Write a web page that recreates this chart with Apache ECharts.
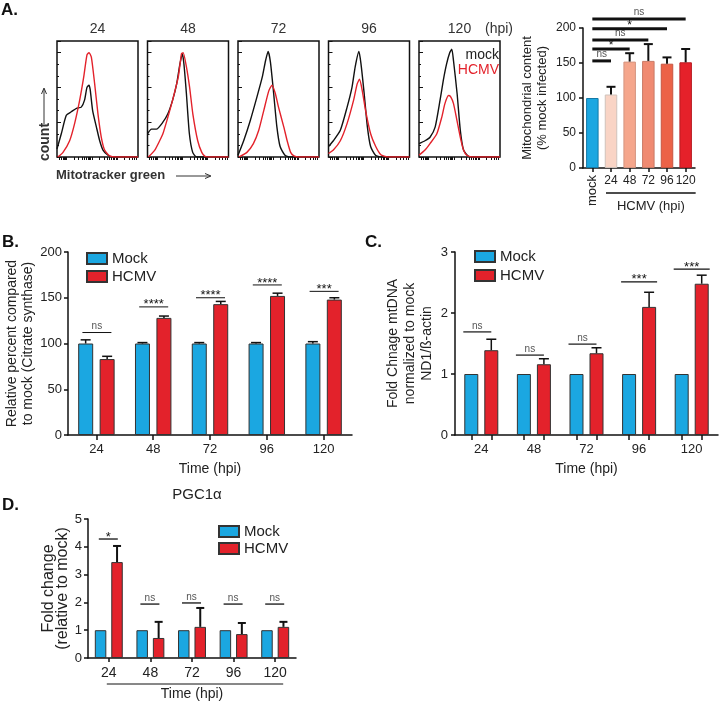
<!DOCTYPE html>
<html><head><meta charset="utf-8">
<script src="https://cdn.jsdelivr.net/npm/echarts@6/dist/echarts.min.js"></script>
<style>html,body{margin:0;padding:0;background:#fff}#c{width:720px;height:702px}</style>
</head><body><div id="c"></div>
<script>
// ================= DATA =================
// Panel A histograms: [relative fluorescence position, relative count]
const hpiLabels = ['24', '48', '72', '96', '120'];
const hist24Mock = [[0,0.07],[0.053,0.2],[0.115,0.36],[0.177,0.39],[0.24,0.42],[0.3,0.43],[0.34,0.49],[0.37,0.6],[0.395,0.62],[0.41,0.58],[0.44,0.4],[0.486,0.26],[0.527,0.14],[0.568,0.06],[0.63,0.015],[0.69,0],[1,0]];
const hist24Hcmv = [[0.01,0],[0.074,0.04],[0.156,0.14],[0.218,0.29],[0.28,0.49],[0.33,0.69],[0.37,0.88],[0.395,0.9],[0.424,0.86],[0.465,0.63],[0.506,0.37],[0.547,0.17],[0.588,0.06],[0.65,0.01],[0.73,0],[1,0]];
const hist48Mock = [[0,0.2],[0.05,0.24],[0.11,0.24],[0.19,0.3],[0.25,0.37],[0.31,0.49],[0.36,0.63],[0.4,0.8],[0.43,0.89],[0.45,0.8],[0.48,0.55],[0.517,0.2],[0.558,0.04],[0.607,0],[1,0]];
const hist48Hcmv = [[0.01,0],[0.09,0.06],[0.15,0.14],[0.19,0.2],[0.25,0.34],[0.31,0.49],[0.38,0.69],[0.42,0.89],[0.44,0.9],[0.48,0.78],[0.52,0.6],[0.56,0.37],[0.62,0.14],[0.67,0.04],[0.71,0.006],[0.77,0],[1,0]];
const hist72Mock = [[0,0.015],[0.07,0.14],[0.15,0.31],[0.235,0.52],[0.3,0.69],[0.34,0.83],[0.372,0.91],[0.4,0.82],[0.44,0.55],[0.48,0.26],[0.52,0.09],[0.58,0.015],[0.64,0],[1,0]];
const hist72Hcmv = [[0.01,0],[0.11,0.04],[0.19,0.115],[0.256,0.23],[0.318,0.4],[0.38,0.57],[0.42,0.62],[0.46,0.55],[0.5,0.43],[0.565,0.26],[0.607,0.14],[0.65,0.04],[0.69,0.01],[0.75,0],[1,0]];
const hist96Mock = [[0,0.09],[0.06,0.14],[0.146,0.23],[0.23,0.43],[0.29,0.6],[0.33,0.78],[0.375,0.91],[0.4,0.81],[0.44,0.55],[0.48,0.26],[0.52,0.09],[0.58,0.015],[0.65,0],[1,0]];
const hist96Hcmv = [[0,0.03],[0.06,0.06],[0.146,0.14],[0.23,0.29],[0.31,0.49],[0.354,0.63],[0.383,0.67],[0.417,0.57],[0.458,0.4],[0.52,0.2],[0.583,0.09],[0.646,0.02],[0.73,0],[1,0]];
const hist120Mock = [[0,0.115],[0.074,0.14],[0.136,0.17],[0.2,0.26],[0.26,0.49],[0.3,0.66],[0.34,0.8],[0.38,0.9],[0.405,0.93],[0.426,0.83],[0.47,0.55],[0.51,0.23],[0.55,0.06],[0.61,0.006],[0.67,0],[1,0]];
const hist120Hcmv = [[0,0.015],[0.074,0.06],[0.136,0.115],[0.22,0.2],[0.28,0.34],[0.32,0.46],[0.364,0.53],[0.39,0.52],[0.426,0.46],[0.467,0.32],[0.51,0.17],[0.55,0.06],[0.59,0.015],[0.67,0],[1,0]];

// Panel A bar chart
const aCats = ['mock', '24', '48', '72', '96', '120'];
const aMean = [100, 105, 152, 153, 149, 151];
const aErrTop = [null, 116, 164, 177, 158, 170];
const aSigY = [153, 170, 183, 199, 213];
const aSigLabels = ['ns', '*', 'ns', '*', 'ns'];

// Panel B
const bMock = [100, 100, 100, 100, 100];
const bMockErrTop = [104, 101, 101, 101, 102];
const bHcmv = [83, 128, 143, 152, 148];
const bHcmvErrTop = [86, 130, 146, 155, 150];
const bSigY = [112, 140, 150, 164, 157];
const bSigLabels = ['ns', '****', '****', '****', '***'];

// Panel C
const cMock = [1, 1, 1, 1, 1];
const cHcmv = [1.39, 1.16, 1.34, 2.10, 2.48];
const cHcmvErrTop = [1.57, 1.25, 1.43, 2.34, 2.62];
const cSigY = [1.69, 1.31, 1.49, 2.51, 2.72];
const cSigLabels = ['ns', 'ns', 'ns', '***', '***'];

// Panel D
const dMock = [1, 1, 1, 1, 1];
const dHcmv = [3.45, 0.72, 1.12, 0.86, 1.12];
const dHcmvErrTop = [4.03, 1.30, 1.80, 1.26, 1.30];
const dSigY = [4.28, 1.94, 1.98, 1.94, 1.94];
const dSigLabels = ['*', 'ns', 'ns', 'ns', 'ns'];

// ================= STYLE =================
const FONT = '"Liberation Sans", Arial, Helvetica, sans-serif';
const BLUE = '#1ba7e1', RED = '#e3222b', INK = '#111', TXT = '#222';
const aColors = ['#1ba7e1', '#f9d4c5', '#f5a68c', '#f08a71', '#ec6247', '#e5212a'];
const aBorders = ['#1479a6', '#cfc2bb', '#d49580', '#c97a66', '#c65540', '#b81c22'];
const histLeft = [57, 147.5, 238, 328.5, 419];
const histMocks = [hist24Mock, hist48Mock, hist72Mock, hist96Mock, hist120Mock];
const histHcmvs = [hist24Hcmv, hist48Hcmv, hist72Hcmv, hist96Hcmv, hist120Hcmv];

const axLine = () => ({ show: true, lineStyle: { color: INK, width: 1.5 } });
const axTick = (extra) => Object.assign({ show: true, length: 4, lineStyle: { color: INK, width: 1.5 } }, extra || {});

// log-like ticks for histogram x axes
const logTicks = [];
[-0.19, 0.12, 0.43, 0.74].forEach(b => {
  for (let k = 1; k <= 9; k++) { const v = b + 0.31 * Math.log10(k); if (v >= 0 && v <= 1) logTicks.push(+v.toFixed(4)); }
});

function errItem(offset, capHalf, lw) {
  return function (params, api) {
    const base = api.coord([api.value(0), api.value(1)]);
    const top = api.coord([api.value(0), api.value(2)]);
    const x = base[0] + offset;
    return { type: 'group', children: [
      { type: 'line', shape: { x1: x, y1: base[1], x2: x, y2: top[1] }, style: { stroke: INK, lineWidth: lw } },
      { type: 'line', shape: { x1: x - capHalf, y1: top[1], x2: x + capHalf, y2: top[1] }, style: { stroke: INK, lineWidth: lw } }
    ] };
  };
}
function sigText(lab, x, y) {
  const ns = lab === 'ns';
  return { type: 'text', x: x, y: ns ? y - 1 : y - 2,
    style: { text: lab, textAlign: 'center', textVerticalAlign: ns ? 'bottom' : 'middle',
      fontSize: ns ? 10 : 13, fontFamily: FONT, fill: ns ? '#555' : INK } };
}
function sigItem(labels, l, r, lw) {
  return function (params, api) {
    const p = api.coord([api.value(0), api.value(1)]);
    return { type: 'group', children: [
      { type: 'line', shape: { x1: p[0] + l, y1: p[1], x2: p[0] + r, y2: p[1] }, style: { stroke: INK, lineWidth: lw } },
      sigText(labels[params.dataIndex], p[0] + (l + r) / 2, p[1])
    ] };
  };
}
function sigFromMock(labels, lw) {
  return function (params, api) {
    const p0 = api.coord([0, api.value(1)]);
    const p1 = api.coord([api.value(0), api.value(1)]);
    const lab = labels[params.dataIndex];
    return { type: 'group', children: [
      { type: 'line', shape: { x1: p0[0], y1: p0[1], x2: p1[0], y2: p1[1] }, style: { stroke: INK, lineWidth: lw } },
      { type: 'text', x: (p0[0] + p1[0]) / 2, y: p0[1] - (lab === 'ns' ? 2 : 3),
        style: { text: lab, textAlign: 'center', textVerticalAlign: lab === 'ns' ? 'bottom' : 'middle',
          fontSize: lab === 'ns' ? 10 : 12, fontFamily: FONT, fill: lab === 'ns' ? '#555' : INK } }
    ] };
  };
}
const toErr = (means, tops) => means.map((m, i) => tops[i] == null ? null : [i, m, tops[i]]).filter(d => d);

// ================= OPTION =================
const grid = histLeft.map(l => ({ left: l, top: 41, width: 81, height: 116, show: true, borderColor: INK, borderWidth: 1.5 }));
grid.push({ left: 583, top: 28, width: 112, height: 140 });   // 5 A bar
grid.push({ left: 583, top: 28, width: 112, height: 140 });   // 6 A bar mock label
grid.push({ left: 68, top: 252, width: 284, height: 183 });   // 7 B
grid.push({ left: 455, top: 252, width: 263, height: 183 });  // 8 C
grid.push({ left: 455, top: 252, width: 263, height: 183 });  // 9 C ticks
grid.push({ left: 88, top: 519, width: 208, height: 139 });   // 10 D

const xAxis = [], yAxis = [];
histLeft.forEach((l, i) => {
  xAxis.push({ gridIndex: i, type: 'value', min: 0, max: 1, axisLine: { show: false },
    axisTick: { show: true, length: 3, customValues: logTicks, lineStyle: { color: INK, width: 1 } },
    axisLabel: { show: false }, splitLine: { show: false } });
  yAxis.push({ gridIndex: i, type: 'value', min: 0, max: 1, interval: 0.3, axisLine: { show: false },
    axisTick: { show: true, inside: true, length: 4, lineStyle: { color: INK, width: 1 } },
    minorTick: { show: true, splitNumber: 3, length: 2, lineStyle: { color: INK, width: 1 } },
    axisLabel: { show: false }, splitLine: { show: false } });
});
// A bar
xAxis.push({ gridIndex: 5, type: 'category', data: aCats, axisLine: axLine(), axisTick: axTick({ alignWithLabel: true }),
  axisLabel: { interval: 0, formatter: v => v === 'mock' ? '' : v, fontSize: 12, color: TXT, margin: 7, fontFamily: FONT } });
yAxis.push({ gridIndex: 5, type: 'value', min: 0, max: 200, interval: 50, axisLine: axLine(), axisTick: axTick(),
  axisLabel: { fontSize: 12, color: TXT, margin: 7, fontFamily: FONT }, splitLine: { show: false },
  name: 'Mitochondrial content\n(% mock infected)', nameLocation: 'middle', nameGap: 33,
  nameTextStyle: { fontSize: 13, lineHeight: 15, color: TXT, fontFamily: FONT } });
xAxis.push({ gridIndex: 6, type: 'category', data: aCats, axisLine: { show: false }, axisTick: { show: false },
  axisLabel: { interval: 0, rotate: 90, formatter: v => v === 'mock' ? v : '', fontSize: 13, color: TXT, margin: 7, fontFamily: FONT } });
yAxis.push({ gridIndex: 6, type: 'value', min: 0, max: 200, show: false });
// B
xAxis.push({ gridIndex: 7, type: 'category', data: hpiLabels, axisLine: axLine(), axisTick: axTick({ alignWithLabel: true, length: 5 }),
  axisLabel: { fontSize: 13, color: TXT, margin: 8, fontFamily: FONT },
  name: 'Time (hpi)', nameLocation: 'middle', nameGap: 27, nameTextStyle: { fontSize: 14, color: TXT, fontFamily: FONT } });
yAxis.push({ gridIndex: 7, type: 'value', min: 0, max: 200, interval: 50, axisLine: axLine(), axisTick: axTick(),
  axisLabel: { fontSize: 13, color: TXT, margin: 6, fontFamily: FONT }, splitLine: { show: false },
  name: 'Relative percent compared\nto mock (Citrate synthase)', nameLocation: 'middle', nameGap: 18,
  nameTextStyle: { fontSize: 14, lineHeight: 16, color: TXT, fontFamily: FONT } });
// C
xAxis.push({ gridIndex: 8, type: 'category', data: hpiLabels, axisLine: axLine(), axisTick: { show: false },
  axisLabel: { fontSize: 13, color: TXT, margin: 8, fontFamily: FONT },
  name: 'Time (hpi)', nameLocation: 'middle', nameGap: 27, nameTextStyle: { fontSize: 14, color: TXT, fontFamily: FONT } });
yAxis.push({ gridIndex: 8, type: 'value', min: 0, max: 3, interval: 1, axisLine: axLine(), axisTick: axTick(),
  axisLabel: { fontSize: 13, color: TXT, margin: 7, fontFamily: FONT }, splitLine: { show: false },
  name: 'Fold Chnage mtDNA\nnormalized to mock\nND1/ß-actin', nameLocation: 'middle', nameGap: 19,
  nameTextStyle: { fontSize: 14, lineHeight: 17, color: TXT, fontFamily: FONT } });
const cTickVals = [];
hpiLabels.forEach((h, i) => { cTickVals.push(i + 0.5 - 0.19, i + 0.5 + 0.19); });
xAxis.push({ gridIndex: 9, type: 'value', min: 0, max: 5, axisLine: { show: false },
  axisTick: { show: true, length: 5, customValues: cTickVals, lineStyle: { color: INK, width: 1.5 } },
  axisLabel: { show: false }, splitLine: { show: false } });
yAxis.push({ gridIndex: 9, type: 'value', min: 0, max: 3, show: false });
// D
xAxis.push({ gridIndex: 10, type: 'category', data: hpiLabels, axisLine: axLine(), axisTick: axTick({ alignWithLabel: true }),
  axisLabel: { fontSize: 14, color: TXT, margin: 8, fontFamily: FONT },
  name: 'Time (hpi)', nameLocation: 'middle', nameGap: 29, nameTextStyle: { fontSize: 14, color: TXT, fontFamily: FONT } });
yAxis.push({ gridIndex: 10, type: 'value', min: 0, max: 5, interval: 1, axisLine: axLine(), axisTick: axTick(),
  axisLabel: { fontSize: 13, color: TXT, margin: 6, fontFamily: FONT }, splitLine: { show: false },
  name: 'Fold change\n(relative to mock)', nameLocation: 'middle', nameGap: 13,
  nameTextStyle: { fontSize: 16, lineHeight: 14, color: TXT, fontFamily: FONT } });

const series = [];
histLeft.forEach((l, i) => {
  series.push({ type: 'line', name: 'hist-mock-' + i, xAxisIndex: i, yAxisIndex: i, data: histMocks[i],
    showSymbol: false, smooth: 0.2, lineStyle: { color: INK, width: 1.4 }, silent: true });
  series.push({ type: 'line', name: 'hist-hcmv-' + i, xAxisIndex: i, yAxisIndex: i, data: histHcmvs[i],
    showSymbol: false, smooth: 0.2, lineStyle: { color: RED, width: 1.4 }, silent: true });
});
// A bar
series.push({ type: 'bar', name: 'A', xAxisIndex: 5, yAxisIndex: 5, barWidth: 12.5,
  data: aMean.map((v, i) => ({ value: v, itemStyle: { color: aColors[i], borderColor: aBorders[i], borderWidth: 1 } })) });
series.push({ type: 'custom', name: 'A-err', xAxisIndex: 5, yAxisIndex: 5, renderItem: errItem(0, 4.5, 2), data: toErr(aMean, aErrTop), z: 5 });
series.push({ type: 'custom', name: 'A-sig', xAxisIndex: 5, yAxisIndex: 5, renderItem: sigFromMock(aSigLabels, 3),
  data: aSigY.map((y, i) => [i + 1, y]), z: 5 });
// B
const barB = { borderColor: '#333', borderWidth: 1 };
series.push({ type: 'bar', name: 'Mock', xAxisIndex: 7, yAxisIndex: 7, barWidth: 15, barGap: '43%', data: bMock, itemStyle: Object.assign({ color: BLUE }, barB) });
series.push({ type: 'bar', name: 'HCMV', xAxisIndex: 7, yAxisIndex: 7, barWidth: 15, barGap: '43%', data: bHcmv, itemStyle: Object.assign({ color: RED }, barB) });
series.push({ type: 'custom', name: 'B-err-m', xAxisIndex: 7, yAxisIndex: 7, renderItem: errItem(-10.75, 5, 1.5), data: toErr(bMock, bMockErrTop), z: 5 });
series.push({ type: 'custom', name: 'B-err-h', xAxisIndex: 7, yAxisIndex: 7, renderItem: errItem(10.75, 5, 1.5), data: toErr(bHcmv, bHcmvErrTop), z: 5 });
series.push({ type: 'custom', name: 'B-sig', xAxisIndex: 7, yAxisIndex: 7, renderItem: sigItem(bSigLabels, -14, 15, 1), data: bSigY.map((y, i) => [i, y]), z: 5 });
// C
series.push({ type: 'bar', name: 'Mock', xAxisIndex: 8, yAxisIndex: 8, barWidth: 14, barGap: '43%', data: cMock, itemStyle: Object.assign({ color: BLUE }, barB) });
series.push({ type: 'bar', name: 'HCMV', xAxisIndex: 8, yAxisIndex: 8, barWidth: 14, barGap: '43%', data: cHcmv, itemStyle: Object.assign({ color: RED }, barB) });
series.push({ type: 'custom', name: 'C-err-h', xAxisIndex: 8, yAxisIndex: 8, renderItem: errItem(10, 5, 1.5), data: toErr(cHcmv, cHcmvErrTop), z: 5 });
series.push({ type: 'custom', name: 'C-sig', xAxisIndex: 8, yAxisIndex: 8,
  renderItem: function (params, api) {
    const lab = cSigLabels[params.dataIndex];
    return sigItem(cSigLabels, -18, lab === 'ns' ? 10 : 18, 1.2)(params, api);
  }, data: cSigY.map((y, i) => [i, y]), z: 5 });
// D
series.push({ type: 'bar', name: 'Mock', xAxisIndex: 10, yAxisIndex: 10, barWidth: 11.5, barGap: '43%', data: dMock, itemStyle: Object.assign({ color: BLUE }, barB) });
series.push({ type: 'bar', name: 'HCMV', xAxisIndex: 10, yAxisIndex: 10, barWidth: 11.5, barGap: '43%', data: dHcmv, itemStyle: Object.assign({ color: RED }, barB) });
series.push({ type: 'custom', name: 'D-err-h', xAxisIndex: 10, yAxisIndex: 10, renderItem: errItem(8.25, 4, 2), data: toErr(dHcmv, dHcmvErrTop), z: 5 });
series.push({ type: 'custom', name: 'D-sig', xAxisIndex: 10, yAxisIndex: 10, renderItem: sigItem(dSigLabels, -10, 9, 1.3), data: dSigY.map((y, i) => [i, y]), z: 5 });

const legBase = { data: ['Mock', 'HCMV'], orient: 'vertical', icon: 'rect', itemWidth: 20, itemHeight: 11,
  textStyle: { fontSize: 15, color: TXT, fontFamily: FONT }, selectedMode: false, padding: 0 };
const legend = [
  Object.assign({}, legBase, { left: 86, top: 251, itemGap: 3 }),
  Object.assign({}, legBase, { left: 474, top: 249, itemGap: 4 }),
  Object.assign({}, legBase, { left: 218, top: 524, itemGap: 2 })
];

const txt = (text, x, y, o) => ({ type: 'text', x: x, y: y, silent: true,
  style: Object.assign({ text: text, fontFamily: FONT, fontSize: 14, fill: '#333', textAlign: 'center', textVerticalAlign: 'middle' }, o || {}) });
const graphic = [
  txt('A.', 1, 10, { fontWeight: 'bold', fontSize: 17, fill: INK, textAlign: 'left' }),
  txt('B.', 2, 242, { fontWeight: 'bold', fontSize: 17, fill: INK, textAlign: 'left' }),
  txt('C.', 365, 242, { fontWeight: 'bold', fontSize: 17, fill: INK, textAlign: 'left' }),
  txt('D.', 2, 505, { fontWeight: 'bold', fontSize: 17, fill: INK, textAlign: 'left' }),
  txt('(hpi)', 499, 29),
  txt('mock', 499, 55, { textAlign: 'right', fill: TXT }),
  txt('HCMV', 499, 70, { textAlign: 'right', fill: RED }),
  Object.assign(txt('count', 45, 142, { fontWeight: 'bold', fill: '#333' }), { rotation: Math.PI / 2 }),
  { type: 'line', silent: true, shape: { x1: 44, y1: 124, x2: 44, y2: 89 }, style: { stroke: '#333', lineWidth: 1 } },
  { type: 'polyline', silent: true, shape: { points: [[41.5, 94], [44, 88], [46.5, 94]] }, style: { stroke: '#333', lineWidth: 1, fill: null } },
  txt('Mitotracker green', 56, 175, { fontWeight: 'bold', fontSize: 13, textAlign: 'left' }),
  { type: 'line', silent: true, shape: { x1: 176, y1: 176, x2: 210, y2: 176 }, style: { stroke: '#333', lineWidth: 1 } },
  { type: 'polyline', silent: true, shape: { points: [[205, 173.5], [211, 176], [205, 178.5]] }, style: { stroke: '#333', lineWidth: 1, fill: null } },
  txt('PGC1α', 197, 495, { fontSize: 15, fill: TXT })
].concat(hpiLabels.map((h, i) => txt(h, histLeft[i] + 40.5, 29)));

const chart = echarts.init(document.getElementById('c'), null, { renderer: 'canvas' });
chart.setOption({ backgroundColor: '#fff', animation: false, textStyle: { fontFamily: FONT },
  grid: grid, xAxis: xAxis, yAxis: yAxis, series: series, legend: legend, graphic: graphic });

// brackets under category groups, positioned through the axes
const a1 = chart.convertToPixel({ xAxisIndex: 5 }, 1), a5 = chart.convertToPixel({ xAxisIndex: 5 }, 5);
const d0 = chart.convertToPixel({ xAxisIndex: 10 }, 0), d4 = chart.convertToPixel({ xAxisIndex: 10 }, 4);
chart.setOption({ graphic: graphic.concat([
  { type: 'line', silent: true, shape: { x1: a1 - 5, y1: 193, x2: a5 + 10, y2: 193 }, style: { stroke: INK, lineWidth: 1.5 } },
  txt('HCMV (hpi)', (a1 - 5 + a5 + 10) / 2, 206, { fontSize: 13, fill: TXT }),
  { type: 'line', silent: true, shape: { x1: d0 - 2, y1: 684, x2: d4 + 8, y2: 684 }, style: { stroke: INK, lineWidth: 1 } }
]) });
</script></body></html>
